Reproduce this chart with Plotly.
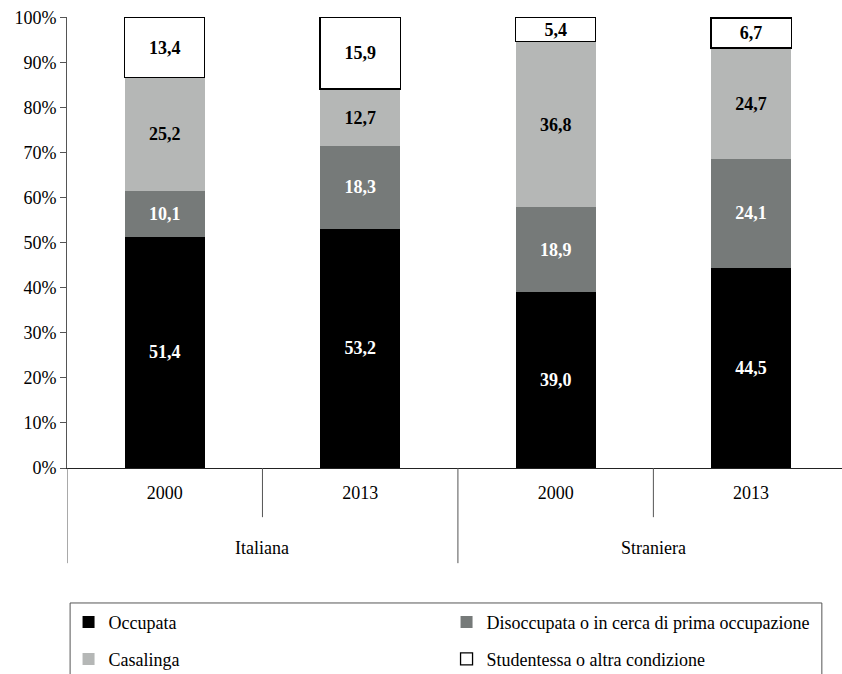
import plotly.graph_objects as go

groups = ["Italiana", "Italiana", "Straniera", "Straniera"]
years = ["2000", "2013", "2000", "2013"]

occupata = [51.4, 53.2, 39.0, 44.5]
disoccupata = [10.1, 18.3, 18.9, 24.1]
casalinga = [25.2, 12.7, 36.8, 24.7]
studentessa = [13.4, 15.9, 5.4, 6.7]

y_ticks = list(range(0, 101, 10))

series = [
    ("Occupata", occupata, "#000000", "#000000", 0, "white", "legend"),
    ("Disoccupata o in cerca di prima occupazione", disoccupata, "#767a79", "#767a79", 0, "white", "legend"),
    ("Casalinga", casalinga, "#b5b7b6", "#b5b7b6", 0, "black", "legend2"),
    ("Studentessa o altra condizione", studentessa, "#ffffff", "#000000", 1.3, "black", "legend2"),
]

FONT = "Times New Roman, Liberation Serif, serif"
LINE = "#555555"
pos = list(range(len(years)))

fig = go.Figure()
for name, vals, color, lcolor, lw, tcolor, leg in series:
    fig.add_trace(go.Bar(
        x=pos, y=vals, name=name, legend=leg,
        marker=dict(color=color, line=dict(color=lcolor, width=lw)),
        texttemplate="<b>%{y:.1f}</b>", textposition="inside",
        insidetextanchor="middle", textangle=0,
        textfont=dict(family=FONT, size=18, color=tcolor),
        cliponaxis=False, width=0.41,
    ))

# divider lines of the two-level category axis
shapes = []
for i in range(len(pos) - 1):
    depth = -0.109 if groups[i] == groups[i + 1] else -0.211
    shapes.append(dict(type="line", xref="x", yref="paper",
                       x0=i + 0.5, x1=i + 0.5, y0=0, y1=depth,
                       line=dict(color=LINE, width=1)))
for xb in (-0.5, len(pos) - 0.5):
    shapes.append(dict(type="line", xref="x", yref="paper",
                       x0=xb, x1=xb, y0=0, y1=-0.211,
                       line=dict(color=LINE, width=1)))
# legend frame
shapes.append(dict(type="rect", xref="paper", yref="paper",
                   x0=0.004, x1=0.974, y0=-0.2993, y1=-0.50,
                   line=dict(color=LINE, width=1), fillcolor="rgba(0,0,0,0)"))

annotations = []
for g in dict.fromkeys(groups):
    idx = [i for i, gg in enumerate(groups) if gg == g]
    annotations.append(dict(x=sum(idx) / len(idx), y=-0.177, xref="x", yref="paper",
                            text=g, showarrow=False, yanchor="middle",
                            font=dict(family=FONT, size=18, color="black")))

leg_common = dict(
    orientation="h", x=0.002, xanchor="left", yanchor="top",
    entrywidth=333, entrywidthmode="pixels",
    borderwidth=0, bgcolor="rgba(0,0,0,0)",
    font=dict(family=FONT, size=18), traceorder="normal",
)

fig.update_layout(
    barmode="stack",
    separators=",.",
    width=842, height=674,
    margin=dict(l=67, r=0, t=17, b=206, autoexpand=False),
    paper_bgcolor="white", plot_bgcolor="white",
    font=dict(family=FONT, size=18, color="black"),
    uniformtext=dict(minsize=18, mode="show"),
    showlegend=True,
    shapes=shapes,
    annotations=annotations,
    legend=dict(y=-0.301, **leg_common),
    legend2=dict(y=-0.383, **leg_common),
)
fig.update_yaxes(
    range=[0, 100.2], tickvals=y_ticks, ticktext=[f"{v}%" for v in y_ticks],
    showgrid=False, automargin=False,
    showline=True, linecolor=LINE, linewidth=1,
    ticks="outside", ticklen=6, tickcolor=LINE,
    tickfont=dict(family=FONT, size=18), zeroline=False,
)
fig.update_xaxes(
    range=[-0.5, len(pos) - 0.535], tickvals=pos, ticktext=years,
    showline=True, linecolor="#222222", linewidth=1, automargin=False,
    ticks="", ticklabelstandoff=8, showgrid=False, zeroline=False,
    tickfont=dict(family=FONT, size=18),
)

fig.write_html("out.html",
               config={"displayModeBar": False},
               post_script="document.body.style.margin='0px';document.body.style.overflow='hidden';")
